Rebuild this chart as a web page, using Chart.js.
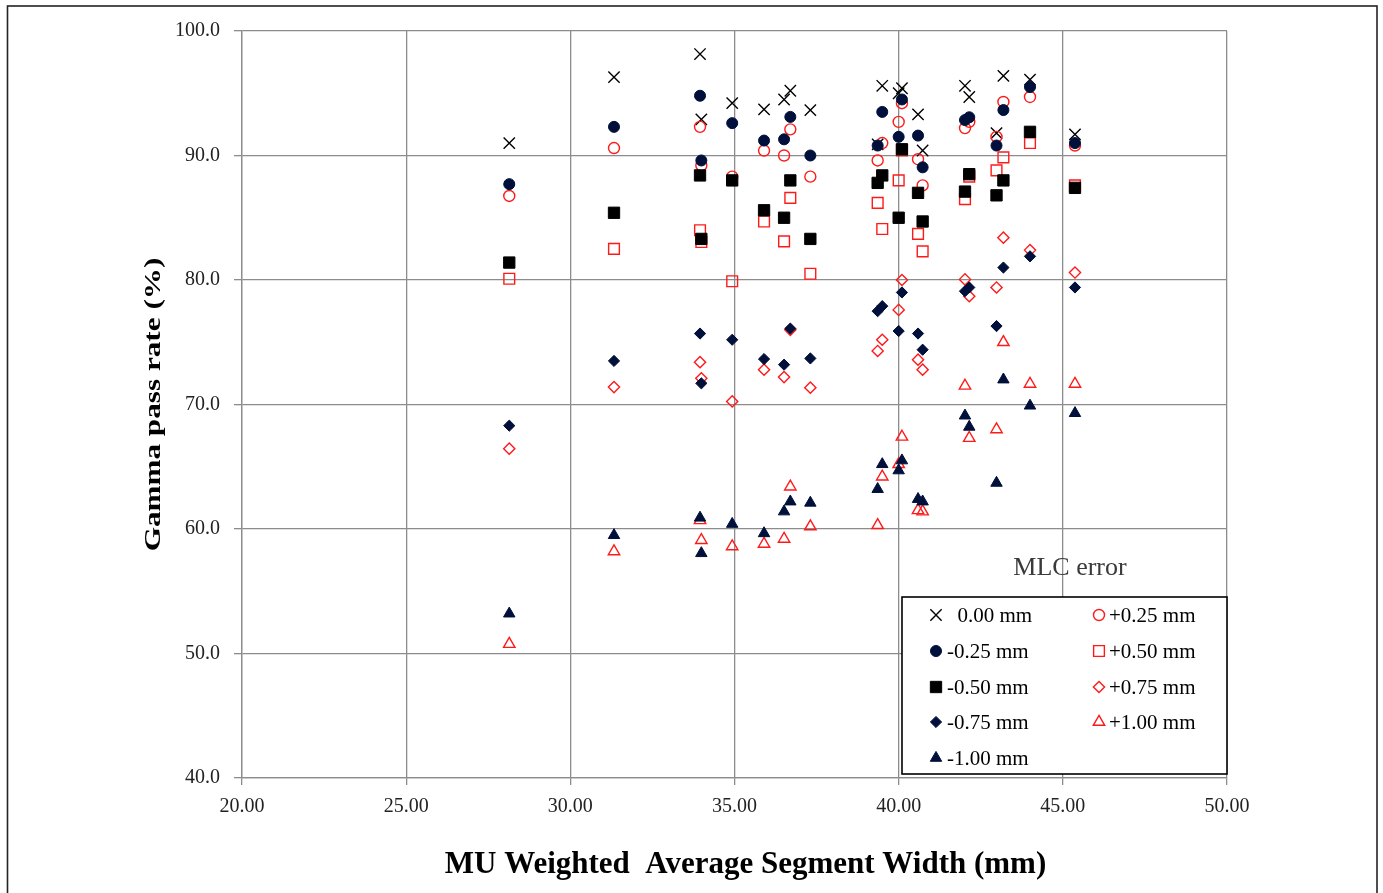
<!DOCTYPE html>
<html>
<head>
<meta charset="utf-8">
<script src="https://cdn.jsdelivr.net/npm/chart.js@4/dist/chart.umd.min.js"></script>
<style>
  html, body { margin: 0; padding: 0; background: #fff; }
  #wrap { width: 1383px; height: 893px; }
</style>
</head>
<body>
<div id="wrap"><canvas id="c" width="1383" height="893"></canvas></div>
<script>
// ---- data ----
const widths = [28.14, 31.33, 33.95, 33.99, 34.93, 35.90, 36.51, 36.70, 37.31, 39.36, 39.50, 40.00, 40.10, 40.59, 40.73, 42.02, 42.15, 42.98, 43.19, 44.00, 45.37];
const err000  = [91.0, 96.3, 98.15, 92.9, 94.2, 93.7, 94.5, 95.2, 93.65, 90.9, 95.6, 95.0, 95.4, 93.3, 90.4, 95.6, 94.7, 91.8, 96.4, 96.1, 91.7];
const errM025 = [87.7, 92.3, 94.8, 89.6, 92.6, 91.2, 91.3, 93.1, 90.0, 90.8, 93.5, 91.5, 94.5, 91.6, 89.05, 92.85, 93.07, 90.8, 93.65, 95.5, 91.0];
const errP025 = [86.75, 90.6, 92.3, 89.2, 88.3, 90.4, 90.0, 92.1, 88.3, 89.6, 91.0, 92.7, 94.2, 89.7, 87.6, 92.2, 92.7, 91.5, 94.3, 94.7, 90.8];
const errM050 = [81.4, 85.4, 88.4, 83.3, 88.0, 85.6, 85.0, 88.0, 83.3, 87.8, 88.4, 85.0, 90.5, 87.0, 84.7, 87.1, 88.5, 86.8, 88.0, 91.9, 87.4];
const errP050 = [80.1, 82.5, 84.0, 83.05, 79.9, 84.7, 83.1, 86.6, 80.5, 86.2, 84.1, 88.0, 90.4, 83.7, 82.3, 86.5, 88.3, 88.8, 89.85, 91.0, 87.6];
const errM075 = [68.3, 73.5, 75.7, 71.7, 75.2, 73.65, 73.2, 76.1, 73.7, 77.5, 77.9, 75.9, 79.0, 75.7, 74.4, 79.1, 79.4, 76.3, 81.0, 81.9, 79.4];
const errP075 = [66.45, 71.4, 73.4, 72.1, 70.25, 72.8, 72.2, 76.0, 71.35, 74.3, 75.2, 77.6, 80.0, 73.6, 72.8, 80.05, 78.7, 79.4, 83.4, 82.4, 80.6];
const errM100 = [53.2, 59.5, 60.9, 58.05, 60.4, 59.65, 61.4, 62.2, 62.1, 63.2, 65.2, 64.7, 65.5, 62.4, 62.2, 69.1, 68.2, 63.7, 72.0, 69.9, 69.3];
const errP100 = [50.76, 58.2, 60.7, 59.1, 58.6, 58.8, 59.2, 63.4, 60.2, 60.3, 64.2, 65.2, 67.4, 61.5, 61.4, 71.5, 67.3, 68.0, 75.0, 71.65, 71.65];

const seriesLabels = ['  0.00 mm', '+0.25 mm', '-0.25 mm', '+0.50 mm', '-0.50 mm', '+0.75 mm', '-0.75 mm', '+1.00 mm', '-1.00 mm'];
const seriesValues = [err000, errP025, errM025, errP050, errM050, errP075, errM075, errP100, errM100];
const xTickMin = 20, xTickMax = 50, xTickStep = 5;
const yTickMin = 40, yTickMax = 100, yTickStep = 10;
const xTitle = 'MU Weighted  Average Segment Width (mm)';
const yTitle = 'Gamma pass rate (%)';
const legendTitle = 'MLC error';

// ---- styles ----
const NAVY = '#00103a', RED = '#ff1a1a', BLACK = '#000000', NONE = 'rgba(0,0,0,0)';
const styles = [
  {pointStyle: 'crossRot', r: 8,   bg: NONE, bd: BLACK, bw: 1.4},
  {pointStyle: 'circle',   r: 5.5, bg: NONE, bd: RED,   bw: 1.4},
  {pointStyle: 'circle',   r: 5.5, bg: NAVY, bd: NAVY,  bw: 1},
  {pointStyle: 'rect',     r: 7.6, bg: NONE, bd: RED,   bw: 1.4},
  {pointStyle: 'rect',     r: 8.0, bg: BLACK, bd: BLACK, bw: 1},
  {pointStyle: 'rectRot',  r: 5.6, bg: NONE, bd: RED,   bw: 1.4},
  {pointStyle: 'rectRot',  r: 5.6, bg: NAVY, bd: NAVY,  bw: 1},
  {pointStyle: 'triangle', r: 6.6, bg: NONE, bd: RED,   bw: 1.4},
  {pointStyle: 'triangle', r: 6.6, bg: NAVY, bd: NAVY,  bw: 1},
];

const datasets = seriesValues.map((vals, i) => ({
  label: seriesLabels[i],
  data: widths.map((x, k) => ({x: x, y: vals[k]})),
  pointStyle: styles[i].pointStyle,
  pointRadius: styles[i].r,
  pointHoverRadius: styles[i].r,
  backgroundColor: styles[i].bg,
  borderColor: styles[i].bd,
  pointBackgroundColor: styles[i].bg,
  pointBorderColor: styles[i].bd,
  pointBorderWidth: styles[i].bw,
  borderWidth: styles[i].bw,
  showLine: false,
  order: seriesValues.length - i
}));

const SERIF = '"Liberation Serif", "Times New Roman", serif';

// ---- plugins ----
const framePlugin = {
  id: 'frame',
  beforeDraw(chart) {
    const ctx = chart.ctx;
    ctx.save();
    ctx.fillStyle = '#ffffff';
    ctx.fillRect(0, 0, chart.width, chart.height);
    ctx.strokeStyle = '#222';
    ctx.lineWidth = 1.6;
    ctx.strokeRect(7.5, 6, 1369.5, 895);
    ctx.restore();
  },
  afterDraw(chart) {
    const ctx = chart.ctx;
    const ca = chart.chartArea;
    // y axis title, rotated and stretched along its reading direction as in the reference
    ctx.save();
    ctx.translate(160, (ca.top + ca.bottom) / 2);
    ctx.rotate(-Math.PI / 2);
    ctx.scale(1.3, 1);
    ctx.font = 'bold 24px ' + SERIF;
    ctx.fillStyle = '#000';
    ctx.textAlign = 'center';
    ctx.textBaseline = 'alphabetic';
    ctx.fillText(yTitle, 0, 0);
    ctx.restore();
    // x axis title
    ctx.save();
    ctx.font = 'bold 31px ' + SERIF;
    ctx.fillStyle = '#000';
    ctx.textAlign = 'center';
    ctx.textBaseline = 'alphabetic';
    ctx.fillText(xTitle, 745.5, 873);
    ctx.restore();
  }
};

function drawMarker(ctx, ds, x, y) {
  const opts = {pointStyle: ds.pointStyle, radius: ds.pointRadius, rotation: 0, borderWidth: ds.pointBorderWidth};
  ctx.fillStyle = ds.pointBackgroundColor;
  ctx.strokeStyle = ds.pointBorderColor;
  ctx.lineWidth = ds.pointBorderWidth;
  if (Chart.helpers && Chart.helpers.drawPoint) {
    Chart.helpers.drawPoint(ctx, opts, x, y);
  } else {
    ctx.beginPath(); ctx.arc(x, y, ds.pointRadius, 0, Math.PI * 2); ctx.fill(); ctx.stroke();
  }
}

const legendPlugin = {
  id: 'mlcLegend',
  afterDatasetsDraw(chart, args, o) {
    const ctx = chart.ctx;
    ctx.save();
    ctx.font = '26px ' + SERIF;
    ctx.fillStyle = '#3a3a3a';
    ctx.textAlign = 'center';
    ctx.textBaseline = 'middle';
    ctx.fillText(legendTitle, o.titleX, o.titleY);

    ctx.fillStyle = '#fff';
    ctx.fillRect(o.x, o.y, o.w, o.h);
    ctx.lineWidth = 1.6;
    ctx.strokeStyle = '#000';
    ctx.strokeRect(o.x, o.y, o.w, o.h);

    chart.data.datasets.forEach((ds, k) => {
      const row = Math.floor(k / 2), col = k % 2;
      const my = o.rowY[row];
      drawMarker(ctx, ds, o.markerX[col], my);
      ctx.fillStyle = '#000';
      ctx.font = '21px ' + SERIF;
      ctx.textAlign = 'left';
      ctx.textBaseline = 'middle';
      ctx.fillText(ds.label, o.textX[col], my + 1);
    });
    ctx.restore();
  }
};

const GRID = '#8c8c8c';
const tickFont = {family: SERIF, size: 20};

new Chart(document.getElementById('c'), {
  type: 'scatter',
  data: {datasets: datasets},
  plugins: [framePlugin, legendPlugin],
  options: {
    responsive: false,
    animation: false,
    devicePixelRatio: 1,
    layout: {padding: {top: 31, right: 156, left: 0, bottom: 0}},
    plugins: {
      legend: {display: false},
      tooltip: {enabled: false},
      mlcLegend: {
        x: 902, y: 597, w: 325, h: 177,
        rowY: [615, 651, 687, 722, 758],
        markerX: [936, 1099],
        textX: [947, 1109],
        titleX: 1070, titleY: 568
      }
    },
    scales: {
      x: {
        type: 'linear',
        min: xTickMin, max: xTickMax,
        afterFit(scale) { scale.height = 115; },
        ticks: {
          stepSize: xTickStep,
          color: '#222',
          font: tickFont,
          padding: 10,
          maxRotation: 0,
          callback: v => Number(v).toFixed(2)
        },
        grid: {color: GRID, lineWidth: 1.3, tickLength: 7, drawTicks: true},
        border: {color: GRID, width: 1.3},
        title: {display: false}
      },
      y: {
        type: 'linear',
        min: yTickMin, max: yTickMax,
        afterFit(scale) { scale.width = 242; },
        ticks: {
          stepSize: yTickStep,
          color: '#222',
          font: tickFont,
          padding: 14,
          callback: v => Number(v).toFixed(1)
        },
        grid: {color: GRID, lineWidth: 1.3, tickLength: 8, drawTicks: true},
        border: {color: GRID, width: 1.3},
        title: {display: false}
      }
    }
  }
});
</script>
</body>
</html>
